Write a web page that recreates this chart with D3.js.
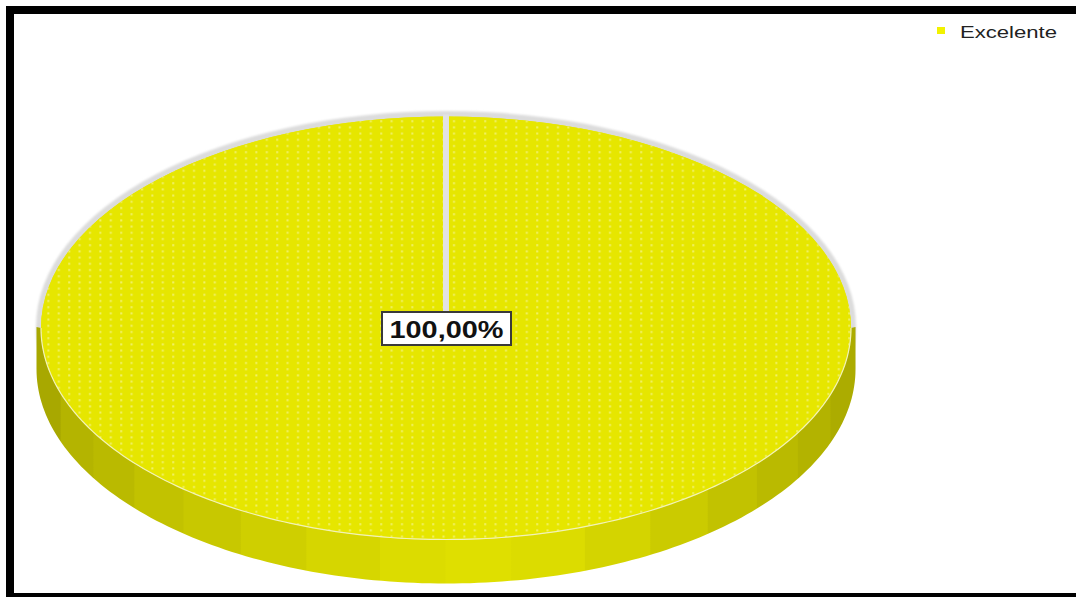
<!DOCTYPE html>
<html><head><meta charset="utf-8">
<script src="https://cdn.jsdelivr.net/npm/d3@7"></script>
<style>html,body{margin:0;padding:0;background:#fff;overflow:hidden}</style>
</head><body>
<svg id="c" width="1076" height="597"></svg>
<script>
const categories = ["Excelente"];
const values = [100];
const colors = ["#e6e600"];
const legendColors = ["#f2f200"];

(function(){
const W = 1076, H = 597;
const svg = d3.select("#c");
const defs = svg.append("defs");

// pattern of light dots on top face
const pat = defs.append("pattern").attr("id","dots").attr("patternUnits","userSpaceOnUse")
  .attr("width",10.4).attr("height",6.2).attr("x",3).attr("y",1);
pat.append("rect").attr("width",10.4).attr("height",6.2).attr("fill",colors[0]);
pat.append("rect").attr("x",4).attr("y",2).attr("width",2).attr("height",2).attr("fill","#f1f16a");

// side gradient with banding
const sideGrad = defs.append("linearGradient").attr("id","side").attr("x1","0").attr("x2","1").attr("y1","0").attr("y2","0");
const bands = [
  [0.00,"#a8a800"],[0.03,"#b4b400"],[0.07,"#baba00"],[0.12,"#c2c200"],[0.18,"#c8c800"],
  [0.25,"#cfcf00"],[0.33,"#d6d600"],[0.42,"#dcdc00"],[0.50,"#dfdf00"],[0.58,"#dcdc00"],
  [0.67,"#d4d400"],[0.75,"#cbcb00"],[0.82,"#c2c200"],[0.88,"#baba00"],[0.93,"#b3b300"],
  [0.97,"#acac00"],[1.00,"#a4a400"]
];
bands.forEach((b,i)=>{
  const next = bands[i+1];
  sideGrad.append("stop").attr("offset",b[0]).attr("stop-color",b[1]);
  if(next) sideGrad.append("stop").attr("offset",next[0]-0.001).attr("stop-color",b[1]);
});

const shadow = defs.append("filter").attr("id","blur").attr("x","-5%").attr("y","-5%").attr("width","110%").attr("height","110%");
shadow.append("feGaussianBlur").attr("stdDeviation",1.2);

// frame
svg.append("rect").attr("x",6).attr("y",6).attr("width",W).attr("height",8).attr("fill","#000");
svg.append("rect").attr("x",6).attr("y",6).attr("width",8).attr("height",H).attr("fill","#000");
svg.append("rect").attr("x",6).attr("y",593).attr("width",W).attr("height",8).attr("fill","#000");

// pie geometry
const cx = 446, cy = 328, rx = 405, ry = 211.5, depth = 41;
const k = ry / rx;
const pie = d3.pie().sort(null).value(d=>d)(values);
const arc = d3.arc().innerRadius(0).outerRadius(rx);
const g = svg.append("g").attr("transform",`translate(${cx},${cy})`);

// outer light-gray rim (visible at the back)
g.append("ellipse").attr("rx",rx+5).attr("ry",ry+4.5).attr("cy",-1).attr("fill","#dcdcdc").attr("filter","url(#blur)");

// side wall
const srx = rx + 4.5;
function sidePath(){
  const p = d3.path();
  p.moveTo(-srx,-1);
  p.lineTo(-srx,depth);
  const N = 160;
  for(let i=0;i<=N;i++){
    const t = Math.PI - Math.PI*i/N;
    p.lineTo(srx*Math.cos(t), depth + (ry+3)*Math.sin(t));
  }
  p.lineTo(srx,-1);
  p.lineTo(rx,0);
  for(let i=0;i<=N;i++){
    const t = Math.PI*i/N;
    p.lineTo(rx*Math.cos(t), ry*Math.sin(t));
  }
  p.closePath();
  return p.toString();
}
g.append("path").attr("d",sidePath()).attr("fill","url(#side)");

// top face: slices through d3.arc squashed into an ellipse
const face = g.append("g").attr("transform",`scale(1,${k})`);
face.selectAll("path.slice").data(pie).join("path").attr("class","slice")
  .attr("d",arc).attr("fill",(d,i)=>colors[i]);
// dotted texture overlay (unscaled so dots keep their shape)
g.append("ellipse").attr("rx",rx).attr("ry",ry).attr("fill","url(#dots)");
// thin light edge at the front
g.append("path").attr("d",()=>{
  const p = d3.path(); const N=160;
  for(let i=0;i<=N;i++){const t=Math.PI*i/N; const x=rx*Math.cos(t), y=ry*Math.sin(t); i?p.lineTo(x,y):p.moveTo(x,y);}
  return p.toString();
}).attr("fill","none").attr("stroke","#f2f2b8").attr("stroke-width",1.2);

// slice boundary line(s)
pie.forEach(d=>{
  const a = d.startAngle;
  g.append("line").attr("x1",0).attr("y1",0)
    .attr("x2",(rx+2)*Math.sin(a)).attr("y2",-(ry+2)*Math.cos(a))
    .attr("stroke","#e2e2e2").attr("stroke-width",6);
});

// label
const loc = d3.formatLocale({decimal:",",thousands:".",grouping:[3],currency:["","€"]});
const fmt = loc.format(".2f");
const total = d3.sum(values);
pie.forEach(d=>{
  const txt = fmt(d.value/total*100)+"%";
  const lg = svg.append("g").attr("transform",`translate(${cx},${cy})`);
  lg.append("rect").attr("x",-64).attr("y",-16).attr("width",129).attr("height",33)
    .attr("fill","#fff").attr("stroke","#3a3a3a").attr("stroke-width",2);
  lg.append("text").attr("x",0.5).attr("y",9.5).attr("text-anchor","middle")
    .attr("font-family","Liberation Sans, Arial, sans-serif").attr("font-weight","bold")
    .attr("font-size",23.5).attr("fill","#111")
    .attr("textLength",114).attr("lengthAdjust","spacingAndGlyphs").text(txt);
});

// legend
const leg = svg.append("g").attr("transform","translate(937,27)");
categories.forEach((c,i)=>{
  const r = leg.append("g").attr("transform",`translate(0,${i*20})`);
  r.append("rect").attr("width",8).attr("height",7).attr("fill",legendColors[i]);
  r.append("text").attr("x",23).attr("y",10.5).attr("font-family","Liberation Sans, Arial, sans-serif")
    .attr("font-size",16).attr("fill","#222")
    .attr("textLength",97).attr("lengthAdjust","spacingAndGlyphs").text(c);
});
})();
</script>
</body></html>
